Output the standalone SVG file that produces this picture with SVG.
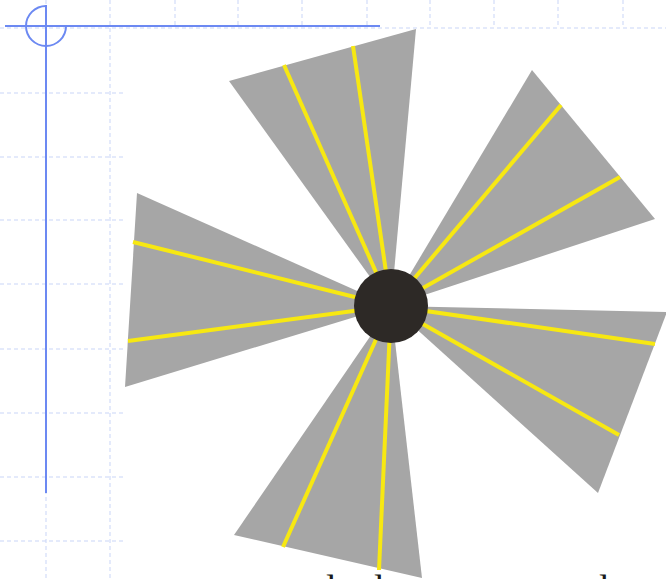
<svg xmlns="http://www.w3.org/2000/svg" width="666" height="579" viewBox="0 0 666 579">
<style>
.grid{stroke:#c9d5f7;stroke-width:1;stroke-dasharray:4 3;fill:none}
.guide{stroke:#6c89f2;stroke-width:2;fill:none}
.blade{fill:#a6a6a6}
.ray{stroke:#f7e812;stroke-width:4;stroke-linecap:butt}
.cut{font-family:"Liberation Serif",serif;font-size:38px;fill:#1a1a1a}
</style>
<rect width="666" height="579" fill="#ffffff"/>
<g id="grid">
<line class="grid" x1="0" y1="28" x2="666" y2="28"/>
<line class="grid" x1="110" y1="0" x2="110" y2="579"/>
<line class="grid" x1="46" y1="0" x2="46" y2="579"/>
<line class="grid" x1="175" y1="0" x2="175" y2="28"/>
<line class="grid" x1="238" y1="0" x2="238" y2="28"/>
<line class="grid" x1="302" y1="0" x2="302" y2="28"/>
<line class="grid" x1="367" y1="0" x2="367" y2="28"/>
<line class="grid" x1="430" y1="0" x2="430" y2="28"/>
<line class="grid" x1="494" y1="0" x2="494" y2="28"/>
<line class="grid" x1="558" y1="0" x2="558" y2="28"/>
<line class="grid" x1="623" y1="0" x2="623" y2="28"/>
<line class="grid" x1="0" y1="93" x2="125" y2="93"/>
<line class="grid" x1="0" y1="157" x2="125" y2="157"/>
<line class="grid" x1="0" y1="220" x2="125" y2="220"/>
<line class="grid" x1="0" y1="284" x2="125" y2="284"/>
<line class="grid" x1="0" y1="349" x2="125" y2="349"/>
<line class="grid" x1="0" y1="413" x2="125" y2="413"/>
<line class="grid" x1="0" y1="477" x2="125" y2="477"/>
<line class="grid" x1="0" y1="541" x2="125" y2="541"/>
</g>
<g id="guides">
<line class="guide" x1="5" y1="26" x2="380" y2="26"/>
<line class="guide" x1="46" y1="5" x2="46" y2="493"/>
<path class="guide" d="M46,6 A20,20 0 1 0 66,26"/>
</g>
<g id="blade-top">
<polygon class="blade" points="229,81 416,29 391,306"/>
<line class="ray" x1="284" y1="65" x2="391" y2="306"/>
<line class="ray" x1="353" y1="46" x2="391" y2="306"/>
</g>
<g id="blade-upper-right">
<polygon class="blade" points="532,70 655,219 391,306"/>
<line class="ray" x1="561" y1="105" x2="391" y2="306"/>
<line class="ray" x1="620" y1="177" x2="391" y2="306"/>
</g>
<g id="blade-right">
<polygon class="blade" points="667,312 598,493 391,306"/>
<line class="ray" x1="655" y1="344" x2="391" y2="306"/>
<line class="ray" x1="619" y1="435" x2="391" y2="306"/>
</g>
<g id="blade-bottom">
<polygon class="blade" points="234,535 422,578 391,306"/>
<line class="ray" x1="283" y1="547" x2="391" y2="306"/>
<line class="ray" x1="379" y1="570" x2="391" y2="306"/>
</g>
<g id="blade-left">
<polygon class="blade" points="137,193 125,387 391,306"/>
<line class="ray" x1="133" y1="242" x2="391" y2="306"/>
<line class="ray" x1="128" y1="341" x2="391" y2="306"/>
</g>
<g id="hub">
<circle cx="391" cy="306" r="37" fill="#2d2926"/>
</g>
<g id="caption">
<text class="cut" x="326" y="601">l</text>
<text class="cut" x="374" y="601">l</text>
<text class="cut" x="599" y="601">l</text>
</g>
</svg>
